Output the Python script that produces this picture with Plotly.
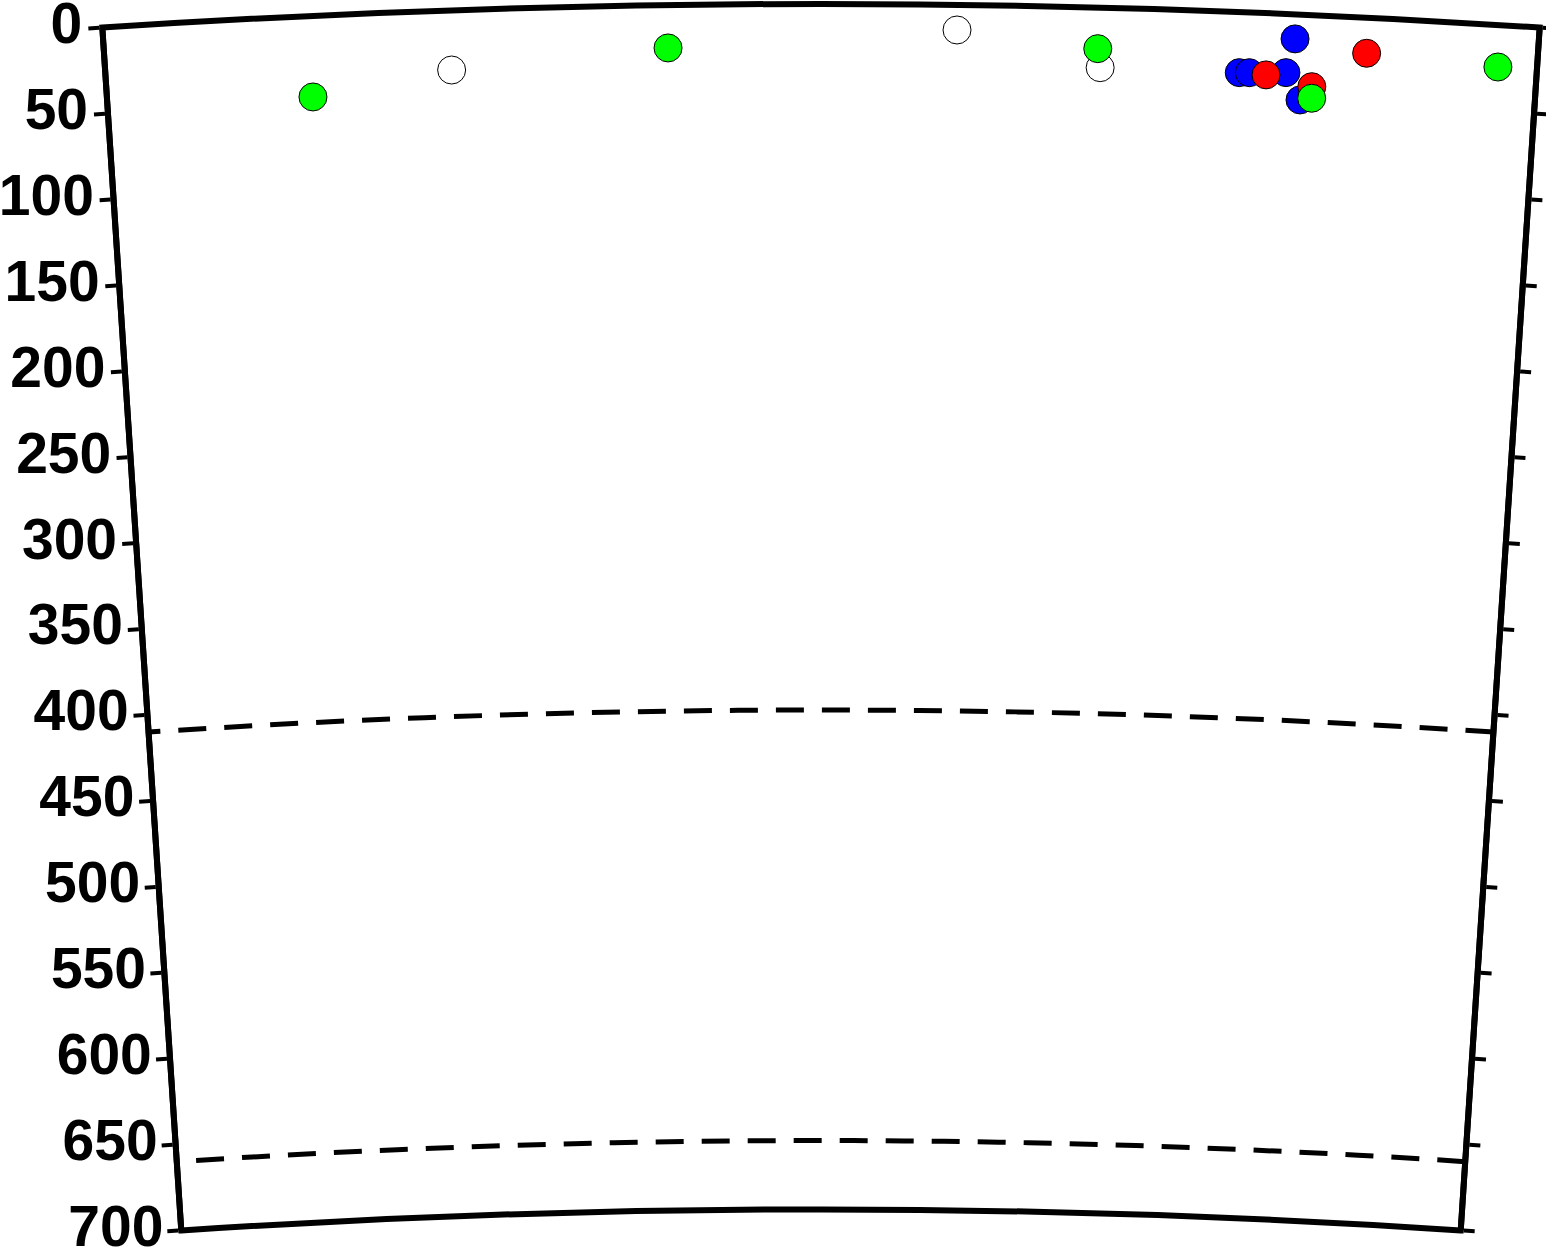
import plotly.graph_objects as go

# Cross-section: angular position along profile (degrees of arc from left edge) and depth (km)
white_theta = [1.816, 4.468, 5.222]
white_depth = [34.7, 14.6, 34.9]

blue_theta = [6.238, 5.953, 6.006, 6.198, 6.278]
blue_depth = [14.3, 35.2, 35.0, 34.1, 49.6]

red_theta = [6.094, 6.616, 6.337]
red_depth = [35.9, 20.7, 41.6]

green_theta = [1.082, 2.954, 5.207, 6.339, 7.307]
green_depth = [47.1, 24.9, 23.9, 48.3, 24.4]

depth_ticks = list(range(0, 701, 50))
depth_labels = [str(d) for d in depth_ticks]
discontinuities = [410, 660]

HALF = 3.756
SECTOR = [90 - HALF, 90 + HALF]
LABEL_SECTOR = [90 - HALF, 94.2]      # slightly wider sector that holds the depth labels
HOLE = 5671 / 6371
RANGE = [700, 0]
LABEL_OFFSET_DEG = -0.105             # depth labels sit just outside the left edge

# The cross-section is a thin slice of a sphere; Plotly fits the whole wedge down to the
# Earth's centre, so the page is tall and only the outer shell is in view.
W = 1546
R_PX = 10971
TOP = 4
MAIN_DOMAIN = dict(x=[98 / W, 1544 / W], y=[0, 1])
LABEL_DOMAIN = dict(x=[13.6 / W, 1543.6 / W], y=[0, 1])

fig = go.Figure()

for th, dp, col in [
    (white_theta, white_depth, "white"),
    (blue_theta, blue_depth, "#0000ff"),
    (red_theta, red_depth, "#ff0000"),
    (green_theta, green_depth, "#00ff00"),
]:
    fig.add_trace(go.Scatterpolar(
        theta=th, r=dp, mode="markers", subplot="polar3",
        marker=dict(size=28, color=col, line=dict(color="black", width=1)),
        showlegend=False, hoverinfo="skip"))

# depth tick labels (horizontal), placed along the left edge through the polar scales
fig.add_trace(go.Scatterpolar(
    theta=[LABEL_OFFSET_DEG] * len(depth_ticks), r=depth_ticks, text=depth_labels,
    mode="text", textposition="middle left", cliponaxis=False, subplot="polar4",
    textfont=dict(family="Liberation Sans", size=57, color="black", weight="bold"),
    showlegend=False, hoverinfo="skip"))

fig.add_trace(go.Scatterpolar(theta=[], r=[], subplot="polar", showlegend=False))
fig.add_trace(go.Scatterpolar(theta=[], r=[], subplot="polar2", showlegend=False))

ang_common = dict(direction="clockwise", rotation=SECTOR[1], thetaunit="degrees",
                  showticklabels=False, ticks="", showgrid=False)

fig.update_layout(
    template="none",
    width=W, height=R_PX + TOP,
    margin=dict(l=0, r=0, t=TOP, b=0, autoexpand=False),
    paper_bgcolor="white",
    showlegend=False,
    polar=dict(
        domain=MAIN_DOMAIN, sector=SECTOR, hole=HOLE, bgcolor="white",
        radialaxis=dict(range=RANGE, angle=SECTOR[1], side="counterclockwise",
                        tickvals=depth_ticks, showticklabels=False,
                        ticks="outside", ticklen=11, tickwidth=4, tickcolor="black",
                        showline=True, linewidth=6, linecolor="black", showgrid=False),
        angularaxis=dict(showline=True, linewidth=6, linecolor="black", **ang_common),
    ),
    polar2=dict(
        domain=MAIN_DOMAIN, sector=SECTOR, hole=HOLE, bgcolor="rgba(0,0,0,0)",
        radialaxis=dict(range=RANGE, angle=SECTOR[0], side="clockwise",
                        tickvals=depth_ticks, showticklabels=False,
                        ticks="outside", ticklen=11, tickwidth=4, tickcolor="black",
                        showline=True, linewidth=6, linecolor="black", showgrid=False),
        angularaxis=dict(showline=False, **ang_common),
    ),
    polar3=dict(
        domain=MAIN_DOMAIN, sector=SECTOR, hole=HOLE, bgcolor="rgba(0,0,0,0)",
        radialaxis=dict(range=RANGE, angle=SECTOR[0], tickvals=discontinuities,
                        showticklabels=False, ticks="", showline=False,
                        showgrid=True, gridcolor="black", gridwidth=5, griddash="28px,18px"),
        angularaxis=dict(showline=False, **ang_common),
    ),
    polar4=dict(
        domain=LABEL_DOMAIN, sector=LABEL_SECTOR, hole=HOLE, bgcolor="rgba(0,0,0,0)",
        radialaxis=dict(range=RANGE, visible=False),
        angularaxis=dict(visible=False, direction="clockwise", rotation=SECTOR[1],
                         thetaunit="degrees"),
    ),
)

fig.write_html("out.html", config={"displayModeBar": False},
               post_script="document.body.style.margin='0';document.body.style.overflow='hidden';")
